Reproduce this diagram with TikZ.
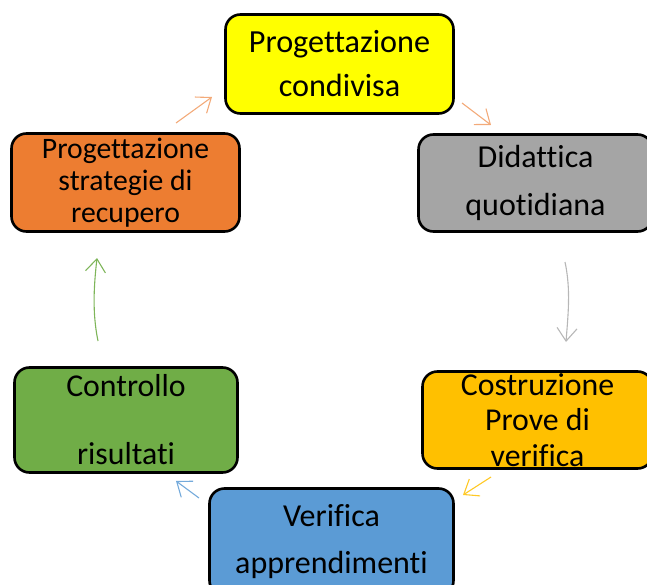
\documentclass[tikz,border=0pt]{standalone}
\usepackage{fontspec}
\setmainfont{Carlito}[Ligatures=NoCommon]
\usetikzlibrary{arrows.meta}
\definecolor{cyellow}{HTML}{FFFF00}
\definecolor{cgray}{HTML}{A5A5A5}
\definecolor{corange}{HTML}{ED7D31}
\definecolor{cgreen}{HTML}{70AD47}
\definecolor{cgold}{HTML}{FFC000}
\definecolor{cblue}{HTML}{5B9BD5}
\tikzset{
  box/.style={draw=black, line width=2.6pt, rounded corners=15pt, align=center, inner sep=0pt, text=black},
  flow/.style={line width=1.1pt, -{Straight Barb[length=13pt,width=20pt,line width=1.1pt]}},
}
\begin{document}
\begin{tikzpicture}[x=1pt,y=1pt]
\useasboundingbox (0,0) rectangle (647,-585);
\node[box, fill=cyellow, minimum width=228, minimum height=99, font=\fontsize{32.2}{44}\selectfont] (prog) at (339.5,-64) {Progettazione\\condivisa};
\node[box, fill=cgray, minimum width=234, minimum height=97, font=\fontsize{32}{48}\selectfont] (did) at (535.5,-183) {Didattica\\quotidiana};
\node[box, fill=cgold, minimum width=230, minimum height=97, font=\fontsize{31.8}{35.5}\selectfont] (cost) at (537.5,-420) {Costruzione\\Prove di\\verifica};
\node[box, fill=cblue, minimum width=244, minimum height=107, font=\fontsize{32}{47}\selectfont] (ver) at (331.5,-542) {Verifica\\apprendimenti};
\node[box, fill=cgreen, minimum width=223, minimum height=105, font=\fontsize{31.8}{34}\selectfont] (ctrl) at (126,-420) {Controllo\\[34pt]risultati};
\node[box, fill=corange, minimum width=228, minimum height=98, font=\fontsize{29.7}{32}\selectfont] (strat) at (125.5,-182.5) {Progettazione\\strategie di\\recupero};

\coordinate (a1s) at (176,-123);
\coordinate (a1e) at (212,-97);
\coordinate (a2s) at (462,-103);
\coordinate (a2e) at (491,-125);
\coordinate (a3s) at (565,-262);
\coordinate (a3e) at (566,-342);
\coordinate (a4s) at (491,-477);
\coordinate (a4e) at (463,-495);
\coordinate (a5s) at (199,-498);
\coordinate (a5e) at (176,-481);
\coordinate (a6s) at (98,-341);
\coordinate (a6e) at (97,-258);

\draw[flow, draw=corange!65] (a1s) -- (a1e);
\draw[flow, draw=corange!65] (a2s) -- (a2e);
\draw[flow, draw=cgray!80] (a3s) .. controls (571,-290) and (568,-315) .. (a3e);
\draw[flow, draw=cgold!85] (a4s) -- (a4e);
\draw[flow, draw=cblue!85] (a5s) -- (a5e);
\draw[flow, draw=cgreen!90] (a6s) .. controls (92,-312) and (94,-285) .. (a6e);
\end{tikzpicture}
\end{document}
